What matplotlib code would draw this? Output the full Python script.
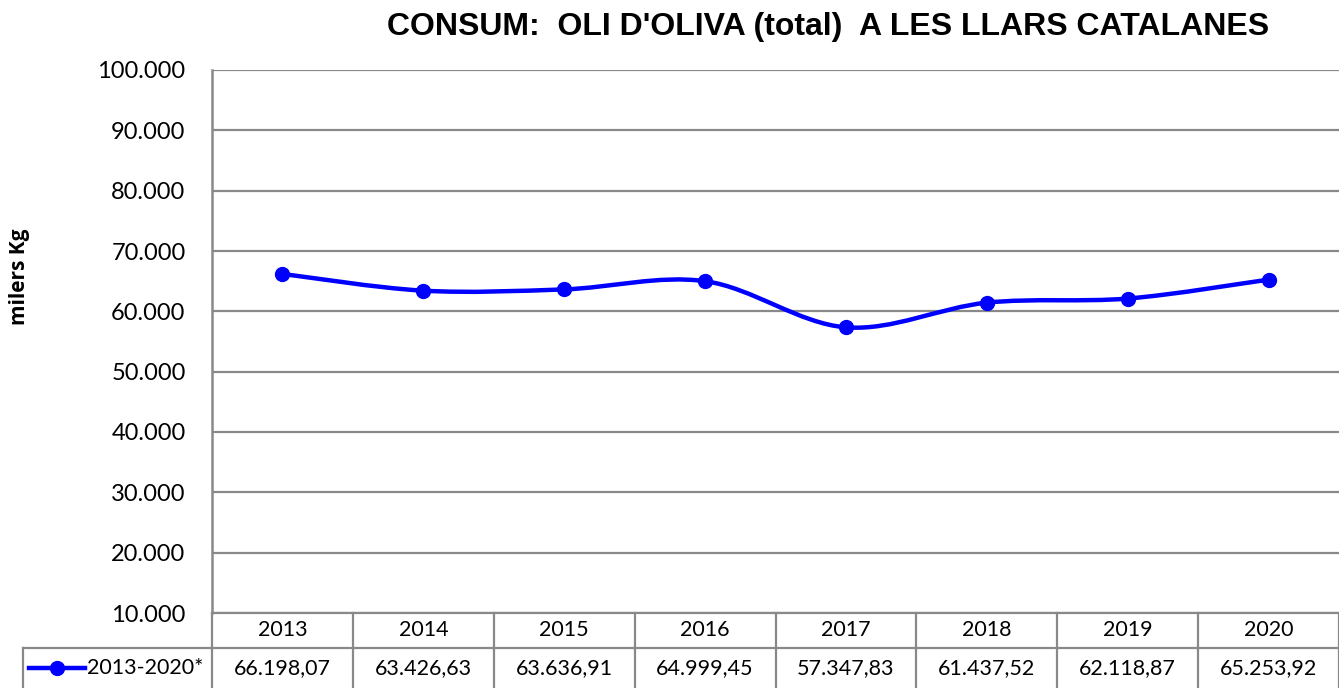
import matplotlib.pyplot as plt
import numpy as np
from matplotlib.path import Path
from matplotlib.patches import PathPatch
from matplotlib.lines import Line2D

years = ['2013', '2014', '2015', '2016', '2017', '2018', '2019', '2020']
consum = [66198.07, 63426.63, 63636.91, 64999.45, 57347.83, 61437.52, 62118.87, 65253.92]
consum_labels = ['66.198,07', '63.426,63', '63.636,91', '64.999,45',
                 '57.347,83', '61.437,52', '62.118,87', '65.253,92']
series_name = '2013-2020*'
yticks = [10000, 20000, 30000, 40000, 50000, 60000, 70000, 80000, 90000, 100000]

grey = '#898989'
blue = '#0000FF'
W, H = 1339, 688

fig = plt.figure(figsize=(W / 100, H / 100), dpi=100)
ax = fig.add_axes([212 / W, 1 - 613 / H, 1 - 212 / W, (613 - 70) / H])

x = np.arange(len(years))
ax.set_xlim(-0.5, len(years) - 0.5)
ax.set_ylim(10000, 100000)

# smoothed line, Excel style: cubic bezier with catmull-rom tangents
pts = np.column_stack([x, consum])
verts = [pts[0]]
codes = [Path.MOVETO]
for i in range(len(pts) - 1):
    p0 = pts[max(i - 1, 0)]
    p1 = pts[i]
    p2 = pts[i + 1]
    p3 = pts[min(i + 2, len(pts) - 1)]
    c1 = p1 + (p2 - p0) / 6
    c2 = p2 - (p3 - p1) / 6
    verts += [c1, c2, p2]
    codes += [Path.CURVE4] * 3
ax.add_patch(PathPatch(Path(verts, codes), fill=False, edgecolor=blue, lw=3.2,
                       zorder=3, capstyle='round'))
ax.plot(x, consum, 'o', color=blue, ms=10, zorder=4)

# axes styling
ax.set_yticks(yticks)
ax.set_yticklabels([f'{v:,}'.replace(',', '.') for v in yticks],
                   fontsize=17, family='Lato')
ax.tick_params(axis='y', length=0, pad=19)
ax.set_xticks([])
ax.grid(axis='y', color=grey, lw=1.6)
ax.set_axisbelow(True)
for s in ['top', 'right']:
    ax.spines[s].set_visible(False)
ax.spines['left'].set_color(grey)
ax.spines['left'].set_linewidth(1.8)
ax.spines['bottom'].set_color(grey)
ax.spines['bottom'].set_linewidth(1.6)

ax.set_ylabel('milers Kg', fontsize=15, fontweight='bold', family='Open Sans')
ax.yaxis.set_label_coords(-0.1615, 0.62)

fig.text(828 / W, 1 - 27 / H, "CONSUM:  OLI D'OLIVA (total)  A LES LLARS CATALANES",
         ha='center', va='center', fontsize=23, fontweight='bold',
         family='Liberation Sans')

# data table below the axes
ah = 613 - 70
row1 = -35 / ah
row2 = -75 / ah
tr = ax.get_xaxis_transform()
for i in range(len(years) + 1):
    ax.add_line(Line2D([i - 0.5, i - 0.5], [0, row2], transform=tr, color=grey,
                       lw=1.6, clip_on=False))
left = (23 - 212) / (W - 212)
ax.add_line(Line2D([left, 1], [row1, row1], transform=ax.transAxes, color=grey,
                   lw=1.6, clip_on=False))
ax.add_line(Line2D([left, left], [row1, row2], transform=ax.transAxes, color=grey,
                   lw=1.6, clip_on=False))
for i, (yr, lab) in enumerate(zip(years, consum_labels)):
    ax.text(i, row1 / 2, yr, transform=tr, ha='center', va='center',
            fontsize=15.5, family='Lato')
    ax.text(i, (row1 + row2) / 2, lab, transform=tr, ha='center', va='center',
            fontsize=15.5, family='Lato')

# legend key in the table's first cell
ymid = (row1 + row2) / 2
kx0 = (29 - 212) / (W - 212)
kx1 = (85 - 212) / (W - 212)
ax.add_line(Line2D([kx0, kx1], [ymid, ymid], transform=ax.transAxes, color=blue,
                   lw=3.2, clip_on=False))
ax.add_line(Line2D([(kx0 + kx1) / 2], [ymid], transform=ax.transAxes, color=blue,
                   marker='o', ms=10, clip_on=False))
ax.text((87 - 212) / (W - 212), ymid, series_name, transform=ax.transAxes,
        ha='left', va='center', fontsize=15.5, family='Lato')

fig.savefig('out.png', dpi=100)
